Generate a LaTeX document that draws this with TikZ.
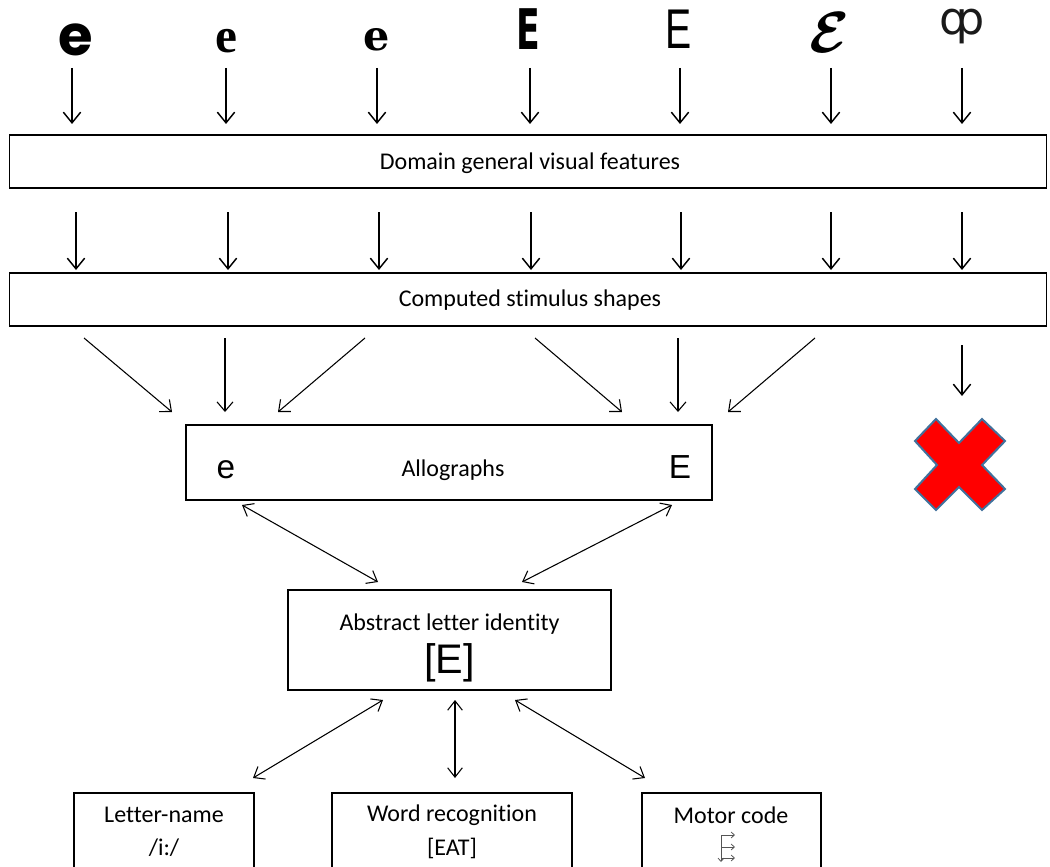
\documentclass[tikz,border=0pt]{standalone}
\usepackage{fontspec}
\usepackage{graphicx}
\setmainfont[Ligatures=NoCommon]{Carlito}
\newfontfamily\popfont{Poppins}
\newfontfamily\lserif{Liberation Serif}
\newfontfamily\dserif{DejaVu Serif}
\newfontfamily\dsans{DejaVu Sans}
\newfontfamily\lsans{Liberation Sans}
\usetikzlibrary{arrows.meta}
\definecolor{xborder}{HTML}{41719C}
\definecolor{xfill}{HTML}{FF0000}
\definecolor{motorgray}{HTML}{555555}
\definecolor{phigray}{HTML}{1A1A1A}
\newcommand{\myscriptE}{\scalebox{2.1}{\mbox{\fontsize{20}{20}\selectfont\mathversion{bold}$\mathcal{E}$}}}
\begin{document}
\begin{tikzpicture}[x=0.75pt,y=-0.75pt,
  glyph/.style={inner sep=0pt},
  boxnode/.style={draw, line width=1.1pt, inner sep=0pt},
  txt/.style={inner sep=0pt, font=\fontsize{18}{20}\selectfont},
  bigarr/.style={line width=1.1pt, -{Straight Barb[length=8pt,width=13pt,line width=1.1pt]}},
  thinarr/.style={line width=0.8pt, -{Straight Barb[length=7pt,width=12pt,line width=0.8pt]}},
  dblarr/.style={line width=0.8pt, {Straight Barb[length=7pt,width=11pt,line width=0.8pt]}-{Straight Barb[length=7pt,width=11pt,line width=0.8pt]}},
  motorarr/.style={draw=motorgray, line width=0.6pt, -{Straight Barb[length=2.5pt,width=4.5pt,line width=0.6pt]}}
]
\useasboundingbox (0,0) rectangle (1050,867);
\clip (0,0) rectangle (1050,867);

% --- stimulus glyphs ---
\node[glyph] (g1) at (76,40) {\popfont\bfseries\fontsize{42}{42}\selectfont e};
\node[glyph] (g2) at (226,41) {\lserif\bfseries\fontsize{37}{37}\selectfont e};
\node[glyph] (g3) at (377,40) {\dserif\bfseries\fontsize{31}{31}\selectfont e};
\node[glyph] (g4) at (528,29) {\scalebox{0.62}[1]{\dsans\bfseries\fontsize{42}{42}\selectfont E}};
\node[glyph] (g5) at (679,29) {\scalebox{0.7}[1]{\lsans\fontsize{42}{42}\selectfont E}};
\node[glyph] (g6) at (830,33) {\myscriptE};
\node[glyph, text=phigray] (g7) at (962,27) {\dsans\fontsize{34}{34}\selectfont ȹ};

% --- boxes ---
\node[boxnode, minimum width=778pt, minimum height=39.75pt] (dom) at (528,161.5) {};
\node[txt] (domt) at (530,163) {Domain general visual features};
\node[boxnode, minimum width=778pt, minimum height=39.75pt] (comp) at (528,299.5) {};
\node[txt] (compt) at (530,300) {Computed stimulus shapes};

\node[boxnode, minimum width=394.5pt, minimum height=56.25pt] (allo) at (449,462.5) {};
\node[txt, anchor=base] (allot) at (453,476) {Allographs};
\node[inner sep=0pt, anchor=base, font=\lsans\fontsize{25}{25}\selectfont] (alloe) at (226,478) {e};
\node[inner sep=0pt, anchor=base, font=\lsans\fontsize{25}{25}\selectfont] (alloE) at (680,478) {E};

\node[boxnode, minimum width=242.25pt, minimum height=75pt] (abs) at (449.5,640) {};
\node[txt] (abst) at (449.5,624) {Abstract letter identity};
\node[inner sep=0pt, font=\lsans\fontsize{31}{31}\selectfont] (absE) at (449.5,663) {[E]};

\node[boxnode, minimum width=135pt, minimum height=62pt] (lname) at (164,834.5) {};
\node[txt] (lnamet) at (164,815) {Letter-name};
\node[txt] (lnameb) at (164,848) {/i:/};
\node[boxnode, minimum width=180pt, minimum height=62pt] (word) at (452,834.5) {};
\node[txt] (wordt) at (452,815) {Word recognition};
\node[txt] (wordb) at (452,848) {[EAT]};
\node[boxnode, minimum width=134.25pt, minimum height=62pt] (motor) at (731.5,834.5) {};
\node[txt] (motort) at (731,815) {Motor code};

% motor code symbol
\coordinate (m1) at (721,835);
\coordinate (m2) at (721,847);
\coordinate (m3) at (721,858);
\coordinate (m4) at (721,862);
\draw[motorarr] (m1) -- ++(14,0);
\draw[motorarr] (m2) -- ++(14,0);
\draw[motorarr] (m3) -- ++(14,0);
\draw[motorarr] (m1) -- (m4);

% --- top arrows ---
\foreach \g/\x in {g1/72,g2/226,g3/377,g4/530,g5/680,g6/831,g7/962}{
  \coordinate (\g a) at (\x,68);
  \coordinate (\g b) at (\x,124);
  \draw[bigarr] (\g a) -- (\g b);
}
% --- second row arrows ---
\foreach \n/\x in {1/76,2/228,3/379,4/531,5/681,6/831,7/962}{
  \coordinate (r\n a) at (\x,212);
  \coordinate (r\n b) at (\x,270);
  \draw[bigarr] (r\n a) -- (r\n b);
}

% --- convergence arrows ---
\coordinate (c1a) at (84,338);  \coordinate (c1b) at (172,412);
\coordinate (c2a) at (225,338); \coordinate (c2b) at (225,412);
\coordinate (c3a) at (365,338); \coordinate (c3b) at (278,412);
\coordinate (c4a) at (535,338); \coordinate (c4b) at (622,412);
\coordinate (c5a) at (678,338); \coordinate (c5b) at (678,412);
\coordinate (c6a) at (815,338); \coordinate (c6b) at (728,412);
\foreach \n in {1,...,6}{ \draw[thinarr] (c\n a) -- (c\n b); }
\coordinate (c7a) at (962,345); \coordinate (c7b) at (962,396);
\draw[bigarr] (c7a) -- (c7b);

% --- red cross ---
\draw[xborder, fill=xfill, line width=1.5pt, line join=miter]
  (915,441) -- (936,419) -- (959,443) -- (982,419) -- (1005,441) -- (982,465)
  -- (1005,489) -- (982,510) -- (959,487) -- (936,510) -- (915,489) -- (937,465) -- cycle;

% --- double arrows ---
\coordinate (d1a) at (242,505); \coordinate (d1b) at (378,582);
\coordinate (d2a) at (672,505); \coordinate (d2b) at (522,582);
\draw[dblarr] (d1a) -- (d1b);
\draw[dblarr] (d2a) -- (d2b);
\coordinate (e1a) at (383,700); \coordinate (e1b) at (253,778);
\coordinate (e2a) at (455,700); \coordinate (e2b) at (455,778);
\coordinate (e3a) at (515,700); \coordinate (e3b) at (645,778);
\draw[dblarr] (e1a) -- (e1b);
\draw[dblarr] (e2a) -- (e2b);
\draw[dblarr] (e3a) -- (e3b);
\end{tikzpicture}
\end{document}
